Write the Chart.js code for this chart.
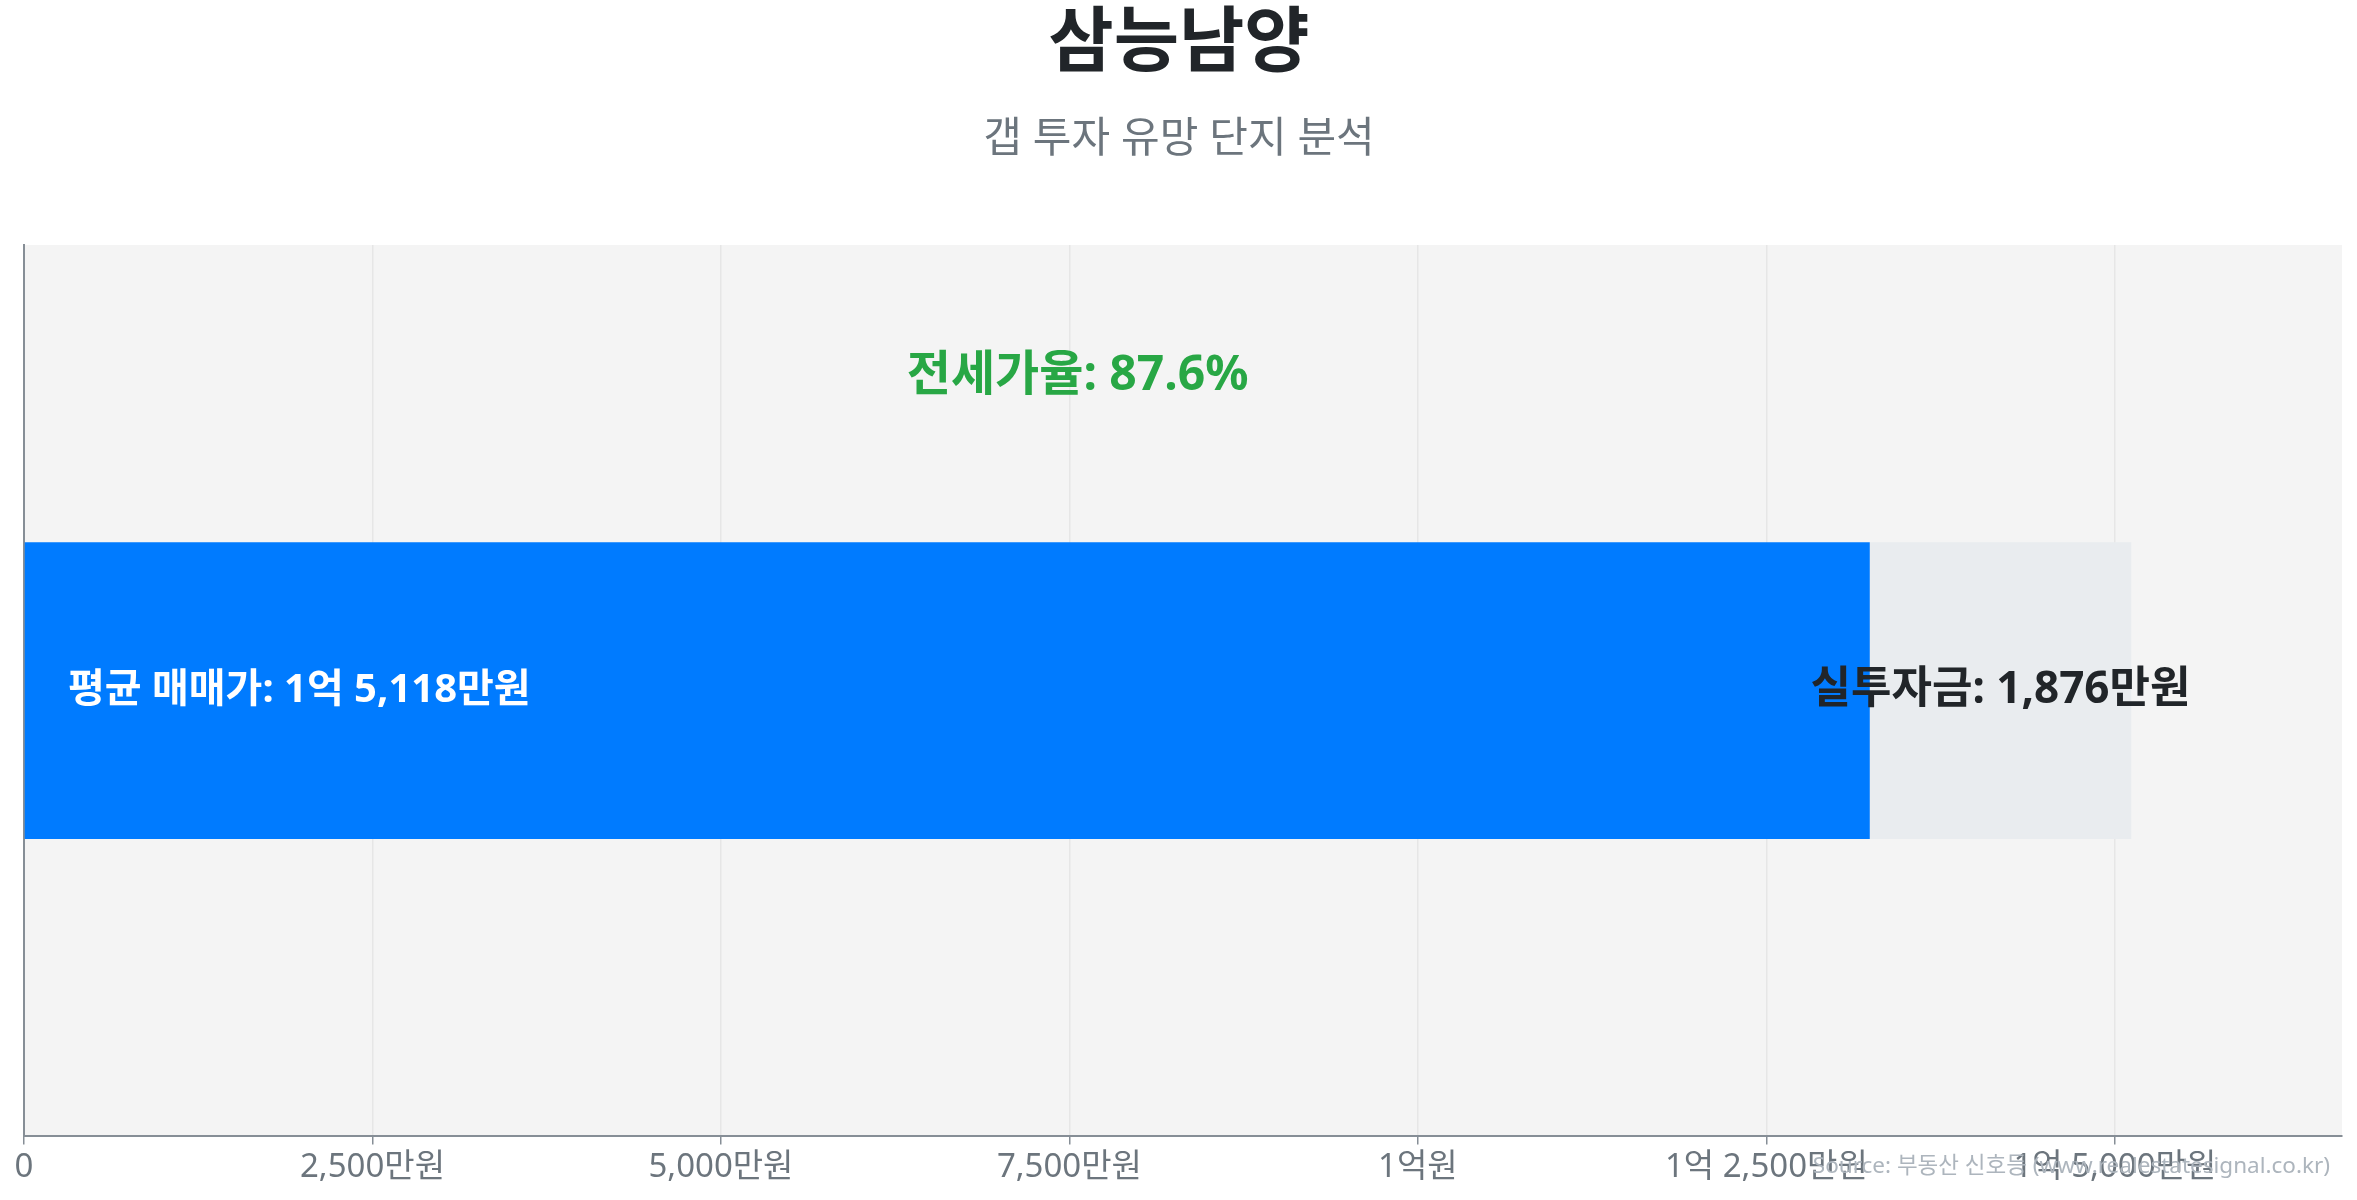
<!DOCTYPE html>
<html lang="ko">
<head>
<meta charset="utf-8">
<title>삼능남양 - 갭 투자 유망 단지 분석</title>
<script src="https://cdn.jsdelivr.net/npm/chart.js@4.4.0/dist/chart.umd.min.js"></script>
<style>
  html, body { margin: 0; padding: 0; background: #fff; }
  #wrap { width: 2357px; height: 1200px; position: relative; }
</style>
</head>
<body>
<div id="wrap"><canvas id="gapChart"></canvas></div>
<script>
// 단위: 만원
const complexNames = ['삼능남양'];
const avgPrice = [15118];
const jeonsePrice = [13242];
const gapAmount = [1876];
const jeonseRatio = [87.6];
const tickValues = [0, 2500, 5000, 7500, 10000, 12500, 15000];
const tickLabels = ['0', '2,500만원', '5,000만원', '7,500만원', '1억원', '1억 2,500만원', '1억 5,000만원'];

const FONT = "'Noto Sans', 'Noto Sans CJK KR', sans-serif";

function formatMan(v) {
  const eok = Math.floor(v / 10000);
  const man = v % 10000;
  if (eok > 0) {
    return eok + '억' + (man > 0 ? ' ' + man.toLocaleString('en-US') + '만원' : '원');
  }
  return v.toLocaleString('en-US') + '만원';
}

const areaBg = {
  id: 'areaBg',
  beforeDraw(chart) {
    const { ctx, chartArea: a } = chart;
    ctx.save();
    ctx.fillStyle = '#f4f4f4';
    ctx.fillRect(a.left, a.top, a.right - a.left, a.bottom - a.top);
    ctx.restore();
  }
};

const barLabels = {
  id: 'barLabels',
  afterDatasetsDraw(chart) {
    const { ctx } = chart;
    const x = chart.scales.x;
    const bar = chart.getDatasetMeta(0).data[0];
    const gapBar = chart.getDatasetMeta(1).data[0];
    const top = bar.y - bar.height / 2;
    ctx.save();
    ctx.textBaseline = 'middle';

    ctx.font = 'bold 40px ' + FONT;
    ctx.fillStyle = '#ffffff';
    ctx.textAlign = 'left';
    ctx.fillText('평균 매매가: ' + formatMan(avgPrice[0]), x.getPixelForValue(0) + 44, bar.y);

    ctx.font = 'bold 44px ' + FONT;
    ctx.fillStyle = '#212529';
    ctx.textAlign = 'center';
    ctx.fillText('실투자금: ' + formatMan(gapAmount[0]), (gapBar.x + gapBar.base) / 2, gapBar.y);

    ctx.font = 'bold 48px ' + FONT;
    ctx.fillStyle = '#28a745';
    ctx.fillText('전세가율: ' + jeonseRatio[0] + '%', x.getPixelForValue(avgPrice[0] / 2), top - 166);
    ctx.restore();
  }
};

const sourceNote = {
  id: 'sourceNote',
  afterDraw(chart) {
    const { ctx } = chart;
    ctx.save();
    ctx.font = '22.5px ' + FONT;
    ctx.fillStyle = '#adb5bd';
    ctx.textAlign = 'right';
    ctx.textBaseline = 'middle';
    ctx.fillText('Source: 부동산 신호등 (www.realestatesignal.co.kr)', chart.width - 27, 1167);
    ctx.restore();
  }
};

window.addEventListener('DOMContentLoaded', () => {
  const ctx = document.getElementById('gapChart').getContext('2d');
  new Chart(ctx, {
    type: 'bar',
    data: {
      labels: complexNames,
      datasets: [{
        label: '전세가',
        data: jeonsePrice,
        backgroundColor: '#007bff',
        categoryPercentage: 1,
        barPercentage: 0.333
      }, {
        label: '실투자금',
        data: gapAmount,
        backgroundColor: '#e9ecef',
        categoryPercentage: 1,
        barPercentage: 0.333
      }]
    },
    options: {
      indexAxis: 'y',
      responsive: true,
      maintainAspectRatio: false,
      animation: false,
      layout: { padding: { left: 16, right: 15, top: 0, bottom: 10 } },
      scales: {
        x: {
          stacked: true,
          min: 0,
          max: avgPrice[0] * 1.1,
          afterBuildTicks(scale) {
            scale.ticks = tickValues.map(v => ({ value: v }));
          },
          grid: { color: '#e6e6e6', lineWidth: 1.5, tickColor: '#868e96', tickLength: 8 },
          border: { color: '#868e96', width: 2 },
          ticks: {
            padding: 3,
            color: '#6c757d',
            font: { family: FONT, size: 33 },
            maxRotation: 0,
            autoSkip: false,
            callback: (v, i) => tickLabels[i]
          }
        },
        y: {
          stacked: true,
          grid: { display: false },
          border: { color: '#868e96', width: 2 },
          ticks: { display: false }
        }
      },
      plugins: {
        legend: { display: false },
        tooltip: { enabled: false },
        title: {
          display: true,
          text: complexNames[0],
          color: '#212529',
          font: { family: FONT, size: 71, weight: 'bold', lineHeight: 1.1 },
          padding: { top: 6, bottom: 16 }
        },
        subtitle: {
          display: true,
          text: '갭 투자 유망 단지 분석',
          color: '#6c757d',
          font: { family: FONT, size: 42 },
          padding: { top: 15, bottom: 79.5 }
        }
      }
    },
    plugins: [areaBg, barLabels, sourceNote]
  });
});
</script>
</body>
</html>
